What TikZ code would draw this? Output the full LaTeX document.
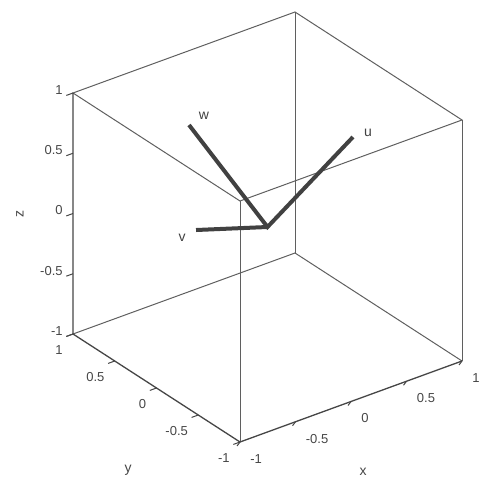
\documentclass[tikz,border=0pt]{standalone}
\usepackage{fontspec}
\setmainfont{Liberation Sans}
\usepackage{tikz}
\usetikzlibrary{positioning, calc}
\definecolor{edgegray}{RGB}{95, 95, 95}
\definecolor{axisgray}{RGB}{70, 70, 70}
\definecolor{vecgray}{RGB}{65, 65, 65}
\tikzset{
  boxedge/.style={draw=edgegray, line width=0.5pt},
  axisline/.style={draw=axisgray, line width=0.65pt},
  tickmark/.style={draw=axisgray, line width=0.5pt},
  ticklabel/.style={font=\fontsize{6.5}{7}\selectfont, text=axisgray, inner sep=0pt},
  axislabel/.style={font=\fontsize{7}{8}\selectfont, text=axisgray, inner sep=0pt},
  vec/.style={draw=vecgray, line width=2pt},
  veclabel/.style={font=\fontsize{7}{8}\selectfont, text=vecgray, inner sep=0pt},
}

\begin{document}
\begin{tikzpicture}[x=0.5pt, y=-0.5pt]
\useasboundingbox (0,0) rectangle (478,485);

\begin{scope}[shift={(267.5,227)},
  x={(55.5pt,20.25pt)}, y={(-41.75pt,27pt)}, z={(0pt,60.25pt)}]

% corners of the box
\foreach \i/\xi in {0/-1, 1/1}
  \foreach \j/\yj in {0/-1, 1/1}
    \foreach \k/\zk in {0/-1, 1/1}
      \coordinate (c\i\j\k) at (\xi,\yj,\zk);
\coordinate (o) at (0,0,0);

% box
\draw[boxedge] (c010) -- (c110) -- (c100);
\draw[boxedge] (c011) -- (c111) -- (c101) -- (c001) -- cycle;
\draw[boxedge] (c000) -- (c001);
\draw[boxedge] (c100) -- (c101);
\draw[boxedge] (c110) -- (c111);

% axes
\draw[axisline] (c011) -- (c010) -- (c000) -- (c100);

% ticks and numbers
\foreach \t/\lab in {-1/-1, -0.5/-0.5, 0/0, 0.5/0.5, 1/1} {
  \coordinate (xt) at (\t,-1,-1);
  \coordinate (yt) at (-1,\t,-1);
  \coordinate (zt) at (-1,1,\t);
  \draw[tickmark] (xt) -- ++(-1.5pt,-2pt);
  \draw[tickmark] (yt) -- ++(-0.06,0,0);
  \draw[tickmark] (zt) -- ++(-0.06,0,0);
  \node[ticklabel, anchor=north west] at ($(xt)+(5pt,-6pt)$) {\lab};
  \node[ticklabel, anchor=north east] at ($(yt)+(-5pt,-5.5pt)$) {\lab};
  \node[ticklabel, anchor=east] at ($(zt)+(-5pt,1.5pt)$) {\lab};
}

% vectors
\coordinate (u) at (0.77,0,0.488);
\coordinate (w) at (-0.3,0.541,0.705);
\coordinate (v) at (-0.3,0.457,-0.129);
\draw[vec] (w) -- (o) -- (u);
\draw[vec] (v) -- (o);
\end{scope}

\node[veclabel] (ulab) at (368,133) {u};
\node[veclabel] (wlab) at (204,116) {w};
\node[veclabel] (vlab) at (182,238) {v};

\node[axislabel] (xlab) at (363,472) {x};
\node[axislabel] (ylab) at (128,470) {y};
\node[axislabel, rotate=90] (zlab) at (20,214) {z};
\end{tikzpicture}
\end{document}
